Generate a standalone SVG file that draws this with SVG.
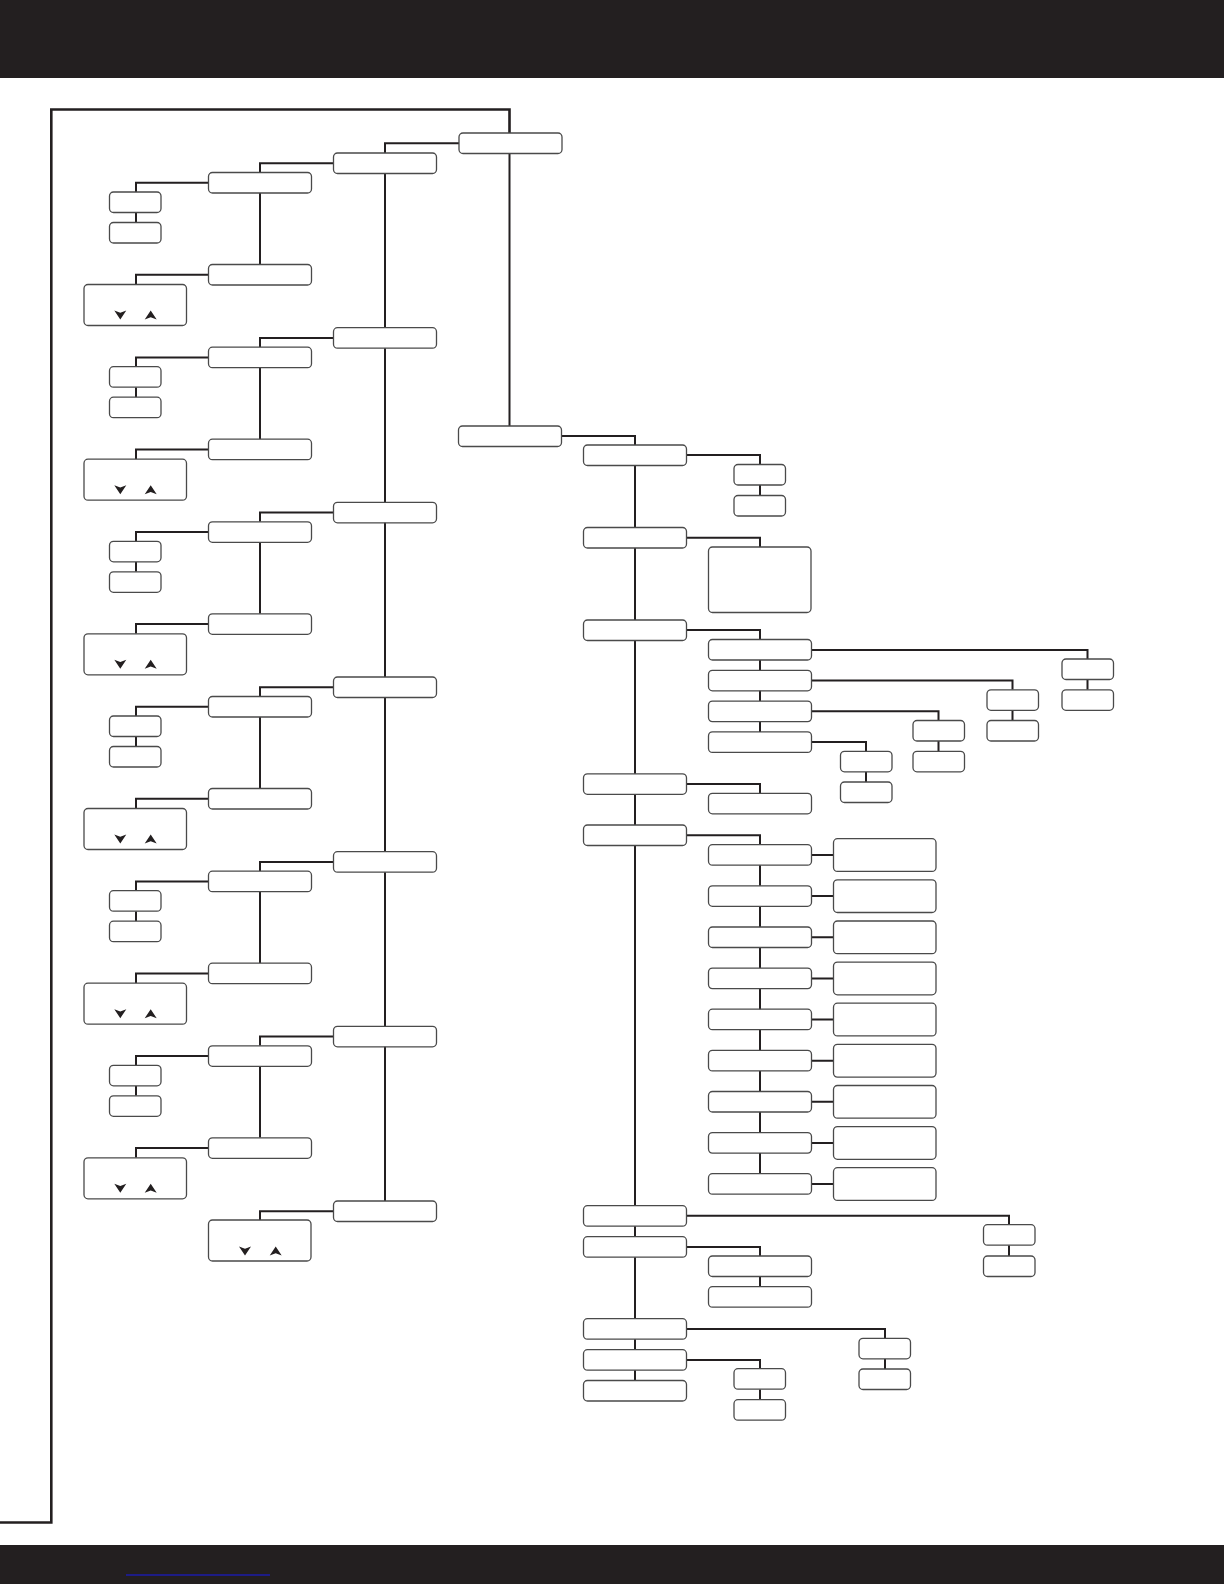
<svg xmlns="http://www.w3.org/2000/svg" xmlns:xlink="http://www.w3.org/1999/xlink" width="1224" height="1584" viewBox="0 0 1224 1584">
<style>
.n{fill:#fff;stroke:#4a4a4a;stroke-width:1.3}
.c{fill:none;stroke:#231f20;stroke-width:2}
.f{fill:none;stroke:#231f20;stroke-width:2.6}
.a{fill:#231f20}
</style>
<defs>
<rect id="bw" class="n" width="103" height="20.5" rx="4"/>
<rect id="bs" class="n" width="51.5" height="20.5" rx="4"/>
<rect id="bd" class="n" width="102.5" height="41" rx="4"/>
<rect id="bq" class="n" width="102.5" height="32.7" rx="4"/>
<path id="dn" class="a" d="M-6,-4.5 L0,-2.3 L6,-4.5 L0,4.5 Z"/>
<path id="up" class="a" d="M-6,4.5 L0,2.3 L6,4.5 L0,-4.5 Z"/>
</defs>
<rect x="0" y="0" width="1224" height="78" fill="#231f20"/>
<rect x="0" y="1545" width="1224" height="39" fill="#231f20"/>
<line x1="126" y1="1575" x2="270" y2="1575" stroke="#1c1ca8" stroke-width="1.5"/>
<g id="connectors">
<path class="f" d="M0,1522.5 H51.3 V109.5 H509.5 V133"/>
<path class="c" d="M509.5,153 V426"/>
<path class="c" d="M459,143.2 H385 V1201"/>
<path class="c" d="M333.5,163.2 H260 V172.5 M208.5,182.7 H136 V192 M136,212.5 V222.5 M260,193 V264.5 M208.5,274.7 H136 V284.5"/>
<path class="c" d="M333.5,337.9 H260 V347.2 M208.5,357.4 H136 V366.7 M136,387.2 V397.2 M260,367.7 V439.2 M208.5,449.4 H136 V459.2"/>
<path class="c" d="M333.5,512.5 H260 V521.8 M208.5,532 H136 V541.3 M136,561.8 V571.8 M260,542.3 V613.8 M208.5,624 H136 V633.8"/>
<path class="c" d="M333.5,687.2 H260 V696.5 M208.5,706.7 H136 V716 M136,736.5 V746.5 M260,717 V788.5 M208.5,798.7 H136 V808.5"/>
<path class="c" d="M333.5,861.9 H260 V871.2 M208.5,881.4 H136 V890.7 M136,911.2 V921.2 M260,891.7 V963.2 M208.5,973.4 H136 V983.2"/>
<path class="c" d="M333.5,1036.5 H260 V1045.8 M208.5,1056 H136 V1065.3 M136,1085.8 V1095.8 M260,1066.3 V1137.8 M208.5,1148 H136 V1157.8"/>
<path class="c" d="M333.5,1211.2 H260 V1220"/>
<path class="c" d="M561,436 H635 V445 M635,465 V1380.5"/>
<path class="c" d="M686,455 H760 V464.5 M760,485 V495.5"/>
<path class="c" d="M686,537.7 H760 V547"/>
<path class="c" d="M686,630 H760 V639.5 M760,660 V732"/>
<path class="c" d="M811,650 H1087.5 V659 M1087.5,679.5 V689.8"/>
<path class="c" d="M811,680.5 H1012.5 V689.8 M1012.5,710.3 V720.5"/>
<path class="c" d="M811,711.3 H938.5 V720.5 M938.5,741 V751.3"/>
<path class="c" d="M811,742 H866 V751.3 M866,771.8 V782"/>
<path class="c" d="M686,784 H760 V793.3"/>
<path class="c" d="M686,835.3 H760 V844.7 M760,865 V1173.7"/>
<path class="c" d="M811,855 H833.5 M811,896.1 H833.5 M811,937.3 H833.5 M811,978.4 H833.5 M811,1019.5 H833.5 M811,1060.7 H833.5 M811,1101.8 H833.5 M811,1142.9 H833.5 M811,1184 H833.5"/>
<path class="c" d="M686,1215.8 H1009 V1224.7 M1009,1245.2 V1256"/>
<path class="c" d="M686,1247 H760 V1256 M760,1276.5 V1286.7"/>
<path class="c" d="M686,1329 H885 V1338.3 M885,1358.8 V1369"/>
<path class="c" d="M686,1360 H760 V1368.7 M760,1389.2 V1399.7"/>
</g>
<g id="root"><use href="#bw" x="459" y="133"/></g>
<g id="menu1"><use href="#bw" x="333.5" y="153"/></g>
<g id="menu1-a"><use href="#bw" x="208.5" y="172.5"/></g>
<g id="menu1-a1"><use href="#bs" x="109.5" y="192"/></g>
<g id="menu1-a2"><use href="#bs" x="109.5" y="222.5"/></g>
<g id="menu1-b"><use href="#bw" x="208.5" y="264.5"/></g>
<g id="menu1-c"><use href="#bd" x="84" y="284.5"/><use href="#dn" x="120.3" y="315"/><use href="#up" x="150.7" y="315"/></g>
<g id="menu2"><use href="#bw" x="333.5" y="327.7"/></g>
<g id="menu2-a"><use href="#bw" x="208.5" y="347.2"/></g>
<g id="menu2-a1"><use href="#bs" x="109.5" y="366.7"/></g>
<g id="menu2-a2"><use href="#bs" x="109.5" y="397.2"/></g>
<g id="menu2-b"><use href="#bw" x="208.5" y="439.2"/></g>
<g id="menu2-c"><use href="#bd" x="84" y="459.2"/><use href="#dn" x="120.3" y="489.7"/><use href="#up" x="150.7" y="489.7"/></g>
<g id="menu3"><use href="#bw" x="333.5" y="502.3"/></g>
<g id="menu3-a"><use href="#bw" x="208.5" y="521.8"/></g>
<g id="menu3-a1"><use href="#bs" x="109.5" y="541.3"/></g>
<g id="menu3-a2"><use href="#bs" x="109.5" y="571.8"/></g>
<g id="menu3-b"><use href="#bw" x="208.5" y="613.8"/></g>
<g id="menu3-c"><use href="#bd" x="84" y="633.8"/><use href="#dn" x="120.3" y="664.3"/><use href="#up" x="150.7" y="664.3"/></g>
<g id="menu4"><use href="#bw" x="333.5" y="677"/></g>
<g id="menu4-a"><use href="#bw" x="208.5" y="696.5"/></g>
<g id="menu4-a1"><use href="#bs" x="109.5" y="716"/></g>
<g id="menu4-a2"><use href="#bs" x="109.5" y="746.5"/></g>
<g id="menu4-b"><use href="#bw" x="208.5" y="788.5"/></g>
<g id="menu4-c"><use href="#bd" x="84" y="808.5"/><use href="#dn" x="120.3" y="839"/><use href="#up" x="150.7" y="839"/></g>
<g id="menu5"><use href="#bw" x="333.5" y="851.7"/></g>
<g id="menu5-a"><use href="#bw" x="208.5" y="871.2"/></g>
<g id="menu5-a1"><use href="#bs" x="109.5" y="890.7"/></g>
<g id="menu5-a2"><use href="#bs" x="109.5" y="921.2"/></g>
<g id="menu5-b"><use href="#bw" x="208.5" y="963.2"/></g>
<g id="menu5-c"><use href="#bd" x="84" y="983.2"/><use href="#dn" x="120.3" y="1013.7"/><use href="#up" x="150.7" y="1013.7"/></g>
<g id="menu6"><use href="#bw" x="333.5" y="1026.3"/></g>
<g id="menu6-a"><use href="#bw" x="208.5" y="1045.8"/></g>
<g id="menu6-a1"><use href="#bs" x="109.5" y="1065.3"/></g>
<g id="menu6-a2"><use href="#bs" x="109.5" y="1095.8"/></g>
<g id="menu6-b"><use href="#bw" x="208.5" y="1137.8"/></g>
<g id="menu6-c"><use href="#bd" x="84" y="1157.8"/><use href="#dn" x="120.3" y="1188.3"/><use href="#up" x="150.7" y="1188.3"/></g>
<g id="menu7"><use href="#bw" x="333.5" y="1201"/></g>
<g id="menu7-a"><use href="#bd" x="208.5" y="1220"/><use href="#dn" x="245" y="1251"/><use href="#up" x="275.7" y="1251"/></g>
<g id="r2"><use href="#bw" x="458.5" y="426"/></g>
<g id="f"><use href="#bw" x="583.5" y="445"/></g>
<g id="f1"><use href="#bs" x="734" y="464.5"/></g>
<g id="f2"><use href="#bs" x="734" y="495.5"/></g>
<g id="h"><use href="#bw" x="583.5" y="527.5"/></g>
<g id="h1"><rect class="n" x="708.5" y="547" width="102.5" height="65.5" rx="4"/></g>
<g id="j"><use href="#bw" x="583.5" y="620"/></g>
<g id="k1"><use href="#bw" x="708.5" y="639.5"/></g>
<g id="k2"><use href="#bw" x="708.5" y="670.3"/></g>
<g id="k3"><use href="#bw" x="708.5" y="701.1"/></g>
<g id="k4"><use href="#bw" x="708.5" y="731.9"/></g>
<g id="l1a"><use href="#bs" x="1062" y="659"/></g>
<g id="l1b"><use href="#bs" x="1062" y="689.8"/></g>
<g id="l2a"><use href="#bs" x="987" y="689.8"/></g>
<g id="l2b"><use href="#bs" x="987" y="720.5"/></g>
<g id="l3a"><use href="#bs" x="913" y="720.5"/></g>
<g id="l3b"><use href="#bs" x="913" y="751.3"/></g>
<g id="l4a"><use href="#bs" x="840.5" y="751.3"/></g>
<g id="l4b"><use href="#bs" x="840.5" y="782"/></g>
<g id="m"><use href="#bw" x="583.5" y="773.8"/></g>
<g id="m1"><use href="#bw" x="708.5" y="793.3"/></g>
<g id="o"><use href="#bw" x="583.5" y="825"/></g>
<g id="p1"><use href="#bw" x="708.5" y="844.7"/></g>
<g id="p2"><use href="#bw" x="708.5" y="885.8"/></g>
<g id="p3"><use href="#bw" x="708.5" y="927"/></g>
<g id="p4"><use href="#bw" x="708.5" y="968.1"/></g>
<g id="p5"><use href="#bw" x="708.5" y="1009.2"/></g>
<g id="p6"><use href="#bw" x="708.5" y="1050.4"/></g>
<g id="p7"><use href="#bw" x="708.5" y="1091.5"/></g>
<g id="p8"><use href="#bw" x="708.5" y="1132.6"/></g>
<g id="p9"><use href="#bw" x="708.5" y="1173.7"/></g>
<g id="q1"><use href="#bq" x="833.5" y="838.7"/></g>
<g id="q2"><use href="#bq" x="833.5" y="879.8"/></g>
<g id="q3"><use href="#bq" x="833.5" y="921"/></g>
<g id="q4"><use href="#bq" x="833.5" y="962.1"/></g>
<g id="q5"><use href="#bq" x="833.5" y="1003.2"/></g>
<g id="q6"><use href="#bq" x="833.5" y="1044.4"/></g>
<g id="q7"><use href="#bq" x="833.5" y="1085.5"/></g>
<g id="q8"><use href="#bq" x="833.5" y="1126.6"/></g>
<g id="q9"><use href="#bq" x="833.5" y="1167.7"/></g>
<g id="s1"><use href="#bw" x="583.5" y="1205.7"/></g>
<g id="t1"><use href="#bs" x="983.5" y="1224.7"/></g>
<g id="t2"><use href="#bs" x="983.5" y="1256"/></g>
<g id="s2"><use href="#bw" x="583.5" y="1236.7"/></g>
<g id="u1"><use href="#bw" x="708.5" y="1256"/></g>
<g id="u2"><use href="#bw" x="708.5" y="1286.7"/></g>
<g id="s3"><use href="#bw" x="583.5" y="1318.7"/></g>
<g id="v1"><use href="#bs" x="859" y="1338.3"/></g>
<g id="v2"><use href="#bs" x="859" y="1369"/></g>
<g id="s4"><use href="#bw" x="583.5" y="1349.7"/></g>
<g id="w1"><use href="#bs" x="734" y="1368.7"/></g>
<g id="w2"><use href="#bs" x="734" y="1399.7"/></g>
<g id="s5"><use href="#bw" x="583.5" y="1380.5"/></g>
</svg>
